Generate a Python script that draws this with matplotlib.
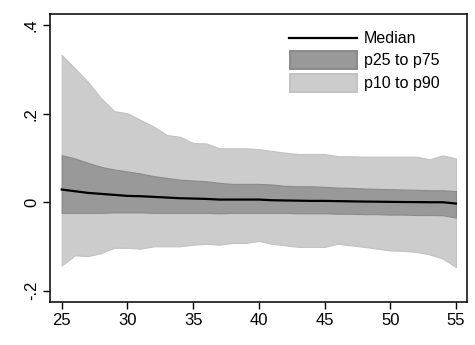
import matplotlib
matplotlib.use("Agg")
import matplotlib.pyplot as plt
from matplotlib.lines import Line2D
from matplotlib.patches import Rectangle

plt.rcParams['font.family'] = ['Liberation Sans', 'DejaVu Sans']

age = list(range(25, 56))

p90 = [0.333, 0.303, 0.272, 0.235, 0.206, 0.201, 0.186, 0.171, 0.152, 0.148,
       0.134, 0.133, 0.122, 0.122, 0.122, 0.120, 0.116, 0.112, 0.109, 0.109,
       0.109, 0.104, 0.104, 0.103, 0.103, 0.103, 0.103, 0.103, 0.097, 0.106,
       0.099]
p75 = [0.1065, 0.099, 0.089, 0.080, 0.074, 0.0695, 0.065, 0.059, 0.055, 0.051,
       0.049, 0.0475, 0.0438, 0.0415, 0.0415, 0.0415, 0.040, 0.037, 0.036, 0.036,
       0.0347, 0.033, 0.0325, 0.031, 0.0302, 0.0294, 0.0287, 0.028, 0.027, 0.027,
       0.025]
p50 = [0.0287, 0.0249, 0.0211, 0.0189, 0.0166, 0.0143, 0.0136, 0.0121, 0.0106, 0.009,
       0.0083, 0.0075, 0.006, 0.006, 0.006, 0.006, 0.0045, 0.004, 0.0035, 0.003,
       0.003, 0.0025, 0.002, 0.0015, 0.0012, 0.0008, 0.0005, 0.0003, 0.0, 0.0,
       -0.003]
p25 = [-0.024, -0.024, -0.024, -0.024, -0.023, -0.023, -0.023, -0.024, -0.024, -0.024,
       -0.024, -0.024, -0.025, -0.024, -0.024, -0.024, -0.024, -0.024, -0.025, -0.025,
       -0.025, -0.026, -0.026, -0.027, -0.027, -0.028, -0.028, -0.029, -0.029, -0.0294,
       -0.0347]
p10 = [-0.143, -0.120, -0.122, -0.115, -0.103, -0.103, -0.105, -0.0997, -0.0997, -0.0997,
       -0.096, -0.094, -0.096, -0.092, -0.092, -0.0876, -0.094, -0.0974, -0.101, -0.101,
       -0.101, -0.094, -0.0974, -0.101, -0.105, -0.109, -0.110, -0.1125, -0.118, -0.1276,
       -0.1465]

xticks = [25, 30, 35, 40, 45, 50, 55]
yticks = [-0.2, 0, 0.2, 0.4]
ytick_labels = ['-.2', '0', '.2', '.4']
legend_labels = ['Median', 'p25 to p75', 'p10 to p90']

W, H = 475, 345
fig = plt.figure(figsize=(W / 100, H / 100), dpi=100)
ax = fig.add_axes([50 / W, 1 - 302 / H, (467 - 50) / W, (302 - 14) / H])

light, light_edge = '#cccccc', '#c2c2c2'
dark, dark_edge = '#999999', '#8a8a8a'
ax.fill_between(age, p10, p90, facecolor=light, edgecolor=light_edge, linewidth=0.8)
ax.fill_between(age, p25, p75, facecolor=dark, edgecolor=dark_edge, linewidth=0.8)
ax.plot(age, p50, color='black', linewidth=1.6)

ax.set_xlim(24.11, 55.84)
ax.set_ylim(-0.2256, 0.4256)
ax.set_xticks(xticks)
ax.set_yticks(yticks)
ax.set_yticklabels(ytick_labels, rotation=90, va='center')
ax.tick_params(axis='both', direction='out', length=5, width=1, labelsize=12, pad=3)
for s in ax.spines.values():
    s.set_linewidth(1.1)


# Key drawn in pixel units from the top-left corner of the figure
def fx(px):
    return px / W


def fy(py):
    return 1 - py / H


fig.add_artist(Line2D([fx(289), fx(357)], [fy(37.5), fy(37.5)], color='black',
                      linewidth=1.6, transform=fig.transFigure))
fig.add_artist(Rectangle((fx(290), fy(68.5)), fx(357) - fx(290), fy(51.5) - fy(68.5),
                         facecolor=dark, edgecolor=dark_edge, linewidth=1.4,
                         transform=fig.transFigure))
fig.add_artist(Rectangle((fx(290), fy(92)), fx(357) - fx(290), fy(74.5) - fy(92),
                         facecolor=light, edgecolor=light_edge, linewidth=1.4,
                         transform=fig.transFigure))
for label, py in zip(legend_labels, [38.5, 60.5, 83.5]):
    fig.text(fx(364), fy(py), label, fontsize=11.5, ha='left', va='center')

fig.savefig('out.png', dpi=100, facecolor='white')
